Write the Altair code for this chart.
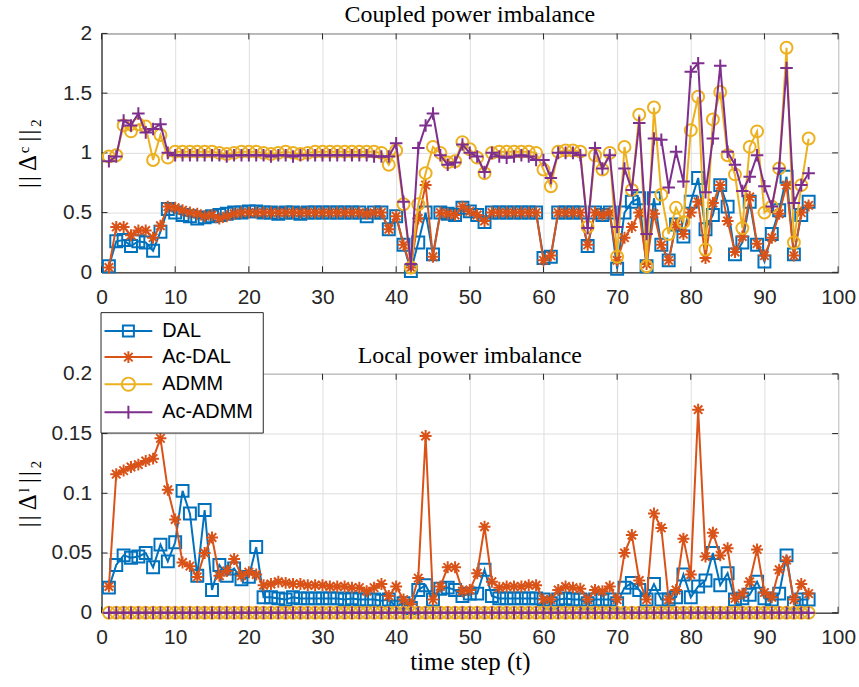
import altair as alt
import pandas as pd

steps = list(range(1, 97))
series_names = ["DAL", "Ac-DAL", "ADMM", "Ac-ADMM"]
series_colors = ["#0072BD", "#D95319", "#EDB120", "#7E2F8E"]

# ---- coupled power imbalance ||Delta^c||_2 ----
dal_c = [0.05, 0.26, 0.27, 0.22, 0.26, 0.25, 0.18, 0.34, 0.53, 0.50,
         0.48, 0.47, 0.45, 0.46, 0.47, 0.48, 0.49, 0.50, 0.50, 0.51,
         0.51, 0.50, 0.50, 0.49, 0.50, 0.50, 0.49, 0.50, 0.50, 0.50,
         0.50, 0.50, 0.50, 0.50, 0.50, 0.47, 0.50, 0.50, 0.36, 0.47,
         0.23, 0.01, 0.25, 0.50, 0.15, 0.50, 0.49, 0.48, 0.54, 0.51,
         0.48, 0.42, 0.50, 0.50, 0.50, 0.50, 0.50, 0.50, 0.50, 0.12,
         0.13, 0.50, 0.50, 0.50, 0.50, 0.22, 0.50, 0.48, 0.50, 0.03,
         0.50, 0.59, 0.62, 0.05, 0.62, 0.23, 0.10, 0.40, 0.30, 0.59,
         0.79, 0.36, 0.48, 0.73, 0.55, 0.15, 0.25, 0.59, 0.23, 0.09,
         0.32, 0.52, 0.80, 0.15, 0.48, 0.59]
acdal_c = [0.04, 0.38, 0.38, 0.31, 0.35, 0.35, 0.29, 0.39, 0.55, 0.54,
           0.52, 0.50, 0.49, 0.47, 0.48, 0.45, 0.47, 0.49, 0.50, 0.50,
           0.50, 0.50, 0.50, 0.50, 0.50, 0.50, 0.50, 0.50, 0.50, 0.50,
           0.50, 0.50, 0.50, 0.50, 0.50, 0.49, 0.50, 0.50, 0.36, 0.47,
           0.23, 0.04, 0.45, 0.73, 0.13, 0.50, 0.49, 0.48, 0.55, 0.51,
           0.48, 0.43, 0.50, 0.50, 0.50, 0.50, 0.50, 0.50, 0.50, 0.10,
           0.14, 0.50, 0.50, 0.50, 0.50, 0.23, 0.50, 0.48, 0.50, 0.10,
           0.29, 0.38, 0.50, 0.07, 0.49, 0.23, 0.10, 0.40, 0.32, 0.50,
           0.59, 0.12, 0.58, 0.73, 0.43, 0.17, 0.30, 0.63, 0.24, 0.14,
           0.29, 0.49, 0.73, 0.14, 0.50, 0.56]
admm_c = [0.97, 0.98, 1.23, 1.18, 1.24, 1.22, 0.94, 1.15, 0.96, 1.01,
          1.01, 1.01, 1.01, 1.01, 1.01, 1.00, 0.99, 1.00, 1.01, 1.01,
          1.01, 1.00, 0.99, 1.00, 1.01, 1.00, 0.99, 1.00, 1.01, 1.01,
          1.01, 1.01, 1.01, 1.01, 1.01, 1.01, 1.01, 1.00, 0.90, 1.02,
          0.57, 0.04, 0.57, 0.83, 1.05, 1.00, 0.92, 0.93, 1.09, 1.03,
          0.96, 0.83, 1.00, 1.01, 1.01, 1.01, 1.01, 1.01, 1.00, 0.86,
          0.72, 1.01, 1.02, 1.02, 1.01, 0.38, 0.98, 0.86, 1.00, 0.13,
          1.05, 0.69, 1.32, 0.05, 1.38, 0.65, 0.32, 0.54, 0.42, 1.19,
          1.47, 0.19, 1.28, 1.51, 0.98, 0.82, 0.37, 1.05, 1.18, 0.50,
          0.55, 0.87, 1.88, 0.25, 0.73, 1.12]
acadmm_c = [0.93, 0.97, 1.27, 1.23, 1.33, 1.17, 1.20, 1.24, 1.00, 0.98,
            0.98, 0.98, 0.98, 0.98, 0.98, 0.98, 0.97, 0.98, 0.98, 0.98,
            0.98, 0.98, 0.97, 0.98, 0.98, 0.97, 0.98, 0.98, 0.98, 0.98,
            0.98, 0.98, 0.98, 0.98, 0.98, 0.98, 0.97, 0.97, 0.97, 1.08,
            0.59, 0.07, 1.04, 1.23, 1.33, 0.98, 0.90, 0.92, 1.07, 1.00,
            0.97, 0.84, 1.00, 0.97, 0.96, 0.97, 0.98, 0.97, 0.94, 0.94,
            0.79, 1.00, 1.00, 1.00, 0.98, 0.37, 1.04, 0.87, 0.98, 0.38,
            0.87, 0.69, 1.25, 0.32, 1.12, 1.11, 0.71, 1.01, 0.76, 1.68,
            1.75, 0.67, 1.12, 1.73, 1.01, 0.90, 0.68, 0.80, 0.98, 0.72,
            0.55, 0.87, 1.71, 0.58, 0.73, 0.83]

# ---- local power imbalance ||Delta^l||_2 ----
dal_l = [0.021, 0.040, 0.048, 0.046, 0.047, 0.050, 0.038, 0.057, 0.043, 0.059,
         0.102, 0.083, 0.031, 0.086, 0.019, 0.040, 0.031, 0.037, 0.028, 0.030,
         0.055, 0.013, 0.013, 0.012, 0.011, 0.013, 0.012, 0.012, 0.012, 0.012,
         0.012, 0.012, 0.011, 0.012, 0.011, 0.011, 0.011, 0.010, 0.011, 0.005,
         0.008, 0.004, 0.019, 0.023, 0.011, 0.020, 0.021, 0.019, 0.014, 0.016,
         0.016, 0.036, 0.014, 0.012, 0.012, 0.012, 0.012, 0.012, 0.012, 0.011,
         0.008, 0.011, 0.012, 0.011, 0.011, 0.008, 0.011, 0.011, 0.011, 0.008,
         0.021, 0.025, 0.019, 0.011, 0.024, 0.011, 0.011, 0.013, 0.032, 0.013,
         0.022, 0.027, 0.050, 0.023, 0.033, 0.011, 0.012, 0.015, 0.026, 0.012,
         0.011, 0.016, 0.048, 0.008, 0.011, 0.011]
acdal_l = [0.022, 0.116, 0.119, 0.122, 0.124, 0.127, 0.129, 0.146, 0.103, 0.078,
           0.042, 0.039, 0.030, 0.050, 0.063, 0.031, 0.035, 0.045, 0.031, 0.034,
           0.032, 0.023, 0.024, 0.026, 0.025, 0.024, 0.024, 0.023, 0.023, 0.023,
           0.022, 0.022, 0.022, 0.021, 0.021, 0.018, 0.021, 0.024, 0.014, 0.022,
           0.011, 0.007, 0.029, 0.148, 0.011, 0.022, 0.038, 0.038, 0.018, 0.019,
           0.033, 0.072, 0.026, 0.021, 0.022, 0.022, 0.022, 0.023, 0.023, 0.011,
           0.011, 0.019, 0.022, 0.021, 0.020, 0.011, 0.019, 0.018, 0.022, 0.011,
           0.050, 0.065, 0.027, 0.011, 0.083, 0.071, 0.011, 0.019, 0.062, 0.032,
           0.170, 0.047, 0.067, 0.048, 0.054, 0.012, 0.016, 0.026, 0.053, 0.017,
           0.013, 0.036, 0.044, 0.011, 0.024, 0.016]
admm_l = [0, 0, 0, 0, 0, 0, 0, 0, 0, 0, 0, 0, 0, 0, 0, 0,
          0, 0, 0, 0, 0, 0, 0, 0, 0, 0, 0, 0, 0, 0, 0, 0,
          0, 0, 0, 0, 0, 0, 0, 0, 0, 0, 0, 0, 0, 0, 0, 0,
          0, 0, 0, 0, 0, 0, 0, 0, 0, 0, 0, 0, 0, 0, 0, 0,
          0, 0, 0, 0, 0, 0, 0, 0, 0, 0, 0, 0, 0, 0, 0, 0,
          0, 0, 0, 0, 0, 0, 0, 0, 0, 0, 0, 0, 0, 0, 0, 0]
acadmm_l = [0, 0, 0, 0, 0, 0, 0, 0, 0, 0, 0, 0, 0, 0, 0, 0,
            0, 0, 0, 0, 0, 0, 0, 0, 0, 0, 0, 0, 0, 0, 0, 0,
            0, 0, 0, 0, 0, 0, 0, 0, 0, 0, 0, 0, 0, 0, 0, 0,
            0, 0, 0, 0, 0, 0, 0, 0, 0, 0, 0, 0, 0, 0, 0, 0,
            0, 0, 0, 0, 0, 0, 0, 0, 0, 0, 0, 0, 0, 0, 0, 0,
            0, 0, 0, 0, 0, 0, 0, 0, 0, 0, 0, 0, 0, 0, 0, 0]

x_ticks = [0, 10, 20, 30, 40, 50, 60, 70, 80, 90, 100]
yc_ticks = [0, 0.5, 1, 1.5, 2]
yl_ticks = [0, 0.05, 0.1, 0.15, 0.2]

# marker glyphs (SVG paths in unit coords)
ASTER = "M-1,0H1M0,-1V1M-0.71,-0.71L0.71,0.71M-0.71,0.71L0.71,-0.71"
PLUS = "M-1.05,0H1.05M0,-1.05V1.05"
marker_shapes = ["square", ASTER, "circle", PLUS]
legend_shapes = [
    "M-4,0H4M-0.92,-0.92H0.92V0.92H-0.92Z",
    "M-4,0H4M0,-1V1M-0.71,-0.71L0.71,0.71M-0.71,0.71L0.71,-0.71",
    "M-4,0H4M1.1,0A1.1,1.1,0,1,1,-1.1,0A1.1,1.1,0,1,1,1.1,0Z",
    "M-4,0H4M0,-1.1V1.1",
]


def to_long(columns):
    rows = []
    for name, vals in zip(series_names, columns):
        for ti, v in zip(steps, vals):
            rows.append({"t": ti, "series": name, "v": v})
    return pd.DataFrame(rows)


df_c = to_long([dal_c, acdal_c, admm_c, acadmm_c])
df_l = to_long([dal_l, acdal_l, admm_l, acadmm_l])

LBL = "Liberation Sans"
SERIF = "Liberation Serif"
EXT = 52
W, H = 740, 240
FRAME = "#262626"


def panel(df, ydom, yticks, ytitle, title, xtitle, with_legend):
    x = alt.X("t:Q", scale=alt.Scale(domain=[0, 100], nice=False),
              axis=alt.Axis(values=x_ticks, title=xtitle, labelPadding=14,
                            titlePadding=2, labelFlush=False))
    y = alt.Y("v:Q", scale=alt.Scale(domain=ydom, nice=False),
              axis=alt.Axis(values=yticks, format="~g", title=ytitle,
                            labelPadding=10, minExtent=EXT, maxExtent=EXT,
                            titlePadding=9, labelFlush=False))
    layers = []
    # inward tick marks on all four sides of the box
    xt = alt.Chart(pd.DataFrame({"t": x_ticks}))
    yt = alt.Chart(pd.DataFrame({"v": yticks}))
    layers.append(xt.mark_rule(color=FRAME, strokeWidth=1)
                  .encode(x=x, y=alt.value(H), y2=alt.value(H - 6)))
    layers.append(xt.mark_rule(color=FRAME, strokeWidth=1)
                  .encode(x=x, y=alt.value(0), y2=alt.value(6)))
    layers.append(yt.mark_rule(color=FRAME, strokeWidth=1)
                  .encode(y=y, x=alt.value(0), x2=alt.value(6)))
    layers.append(yt.mark_rule(color=FRAME, strokeWidth=1)
                  .encode(y=y, x=alt.value(W), x2=alt.value(W - 6)))
    for name, col, shp in zip(series_names, series_colors, marker_shapes):
        base = alt.Chart(df).transform_filter(alt.datum.series == name)
        layers.append(base.mark_line(strokeWidth=2, color=col).encode(x=x, y=y))
        layers.append(base.mark_point(shape=shp, size=144, filled=False,
                                      strokeWidth=2, color=col, opacity=1)
                      .encode(x=x, y=y))
    if with_legend:
        # legend is lifted to the top level; origin = top panel's plot corner
        leg = alt.Legend(orient="none", legendX=-1, legendY=280,
                         title=None, padding=9, fillColor="white",
                         strokeColor=FRAME, cornerRadius=0, labelFont=LBL,
                         labelFontSize=20, labelColor="black", symbolSize=144,
                         symbolStrokeWidth=2, symbolOffset=9, labelOffset=24,
                         rowPadding=6.2, labelLimit=0, direction="vertical")
        legend_layer = (alt.Chart(df).transform_filter("false")
                        .mark_point(filled=False, strokeWidth=2, opacity=1)
                        .encode(color=alt.Color("series:N", legend=leg,
                                                scale=alt.Scale(domain=series_names, range=series_colors)),
                                shape=alt.Shape("series:N", legend=leg,
                                                scale=alt.Scale(domain=series_names, range=legend_shapes))))
        layers.append(legend_layer)
    return alt.layer(*layers).properties(
        width=W, height=H,
        title=alt.TitleParams(title, font=SERIF, fontSize=24, fontWeight="normal",
                              color="black", offset=-5))


top = panel(df_c, [0, 2], yc_ticks, "|\u200a|\u2009Δ\u200aᶜ\u2009|\u200a|\u200a₂",
            "Coupled power imbalance", None, False)
bottom = panel(df_l, [0, 0.2], yl_ticks, "|\u200a|\u2009Δ\u200aˡ\u2009|\u200a|\u200a₂",
               "Local power imbalance", "time step (t)", True)

chart = (alt.vconcat(top, bottom, spacing=35)
         .properties(padding={"left": 15, "top": 1, "right": 2, "bottom": 2},
                     background="white")
         .configure_view(stroke=FRAME, strokeWidth=1)
         .configure_axis(labelFont=LBL, labelFontSize=21, labelColor=FRAME,
                         titleFont=SERIF, titleFontSize=25, titleFontWeight="normal",
                         titleColor="black", gridColor="#dedede", gridWidth=1,
                         domainColor=FRAME, ticks=False, tickSize=0))

chart.save("out.html", embed_options={"renderer": "svg", "actions": False})
